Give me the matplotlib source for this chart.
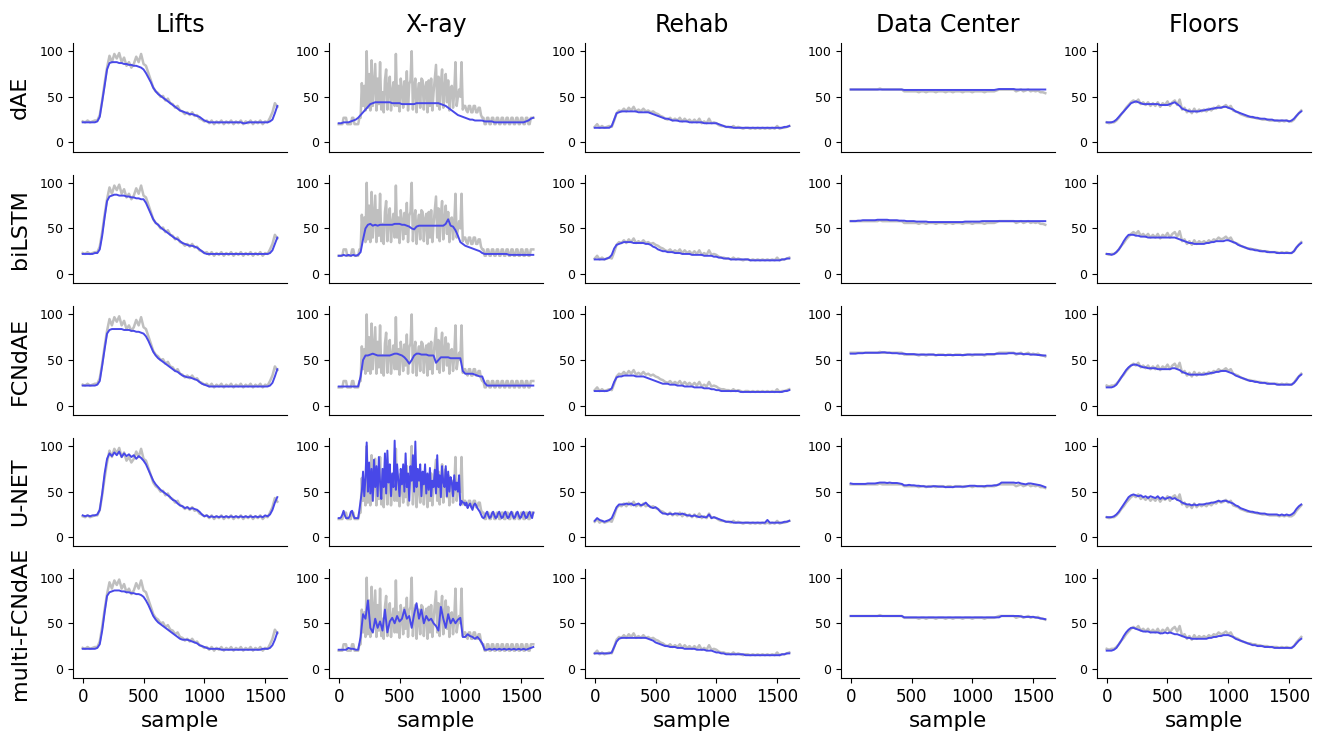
import numpy as np
import matplotlib
matplotlib.use("Agg")
import matplotlib.pyplot as plt

# ---------------- sample grids ----------------
sample_coarse = np.arange(0, 1601, 20)   # 81 points
sample_fine = np.arange(0, 1601, 10)     # 161 points

appliances = ["Lifts", "X-ray", "Rehab", "Data Center", "Floors"]
models = ["dAE", "biLSTM", "FCNdAE", "U-NET", "multi-FCNdAE"]
x_ticks = [0, 500, 1000, 1500]
y_ticks = [0, 50, 100]

# ---------------- Lifts ----------------
lifts_truth = [23,22,24,22,23,24,24,30,46,65,
               82,95,88,97,92,98,88,93,84,88,
               82,86,94,88,97,86,84,76,68,60,
               56,54,50,51,46,48,43,42,38,40,
               35,34,31,33,30,33,29,30,26,25,
               23,24,21,24,20,23,21,24,20,23,
               21,24,20,23,21,24,20,23,21,24,
               20,23,21,24,20,23,22,27,33,43,
               39]
lifts_dae = [22,22,22,22,22,22,23,28,45,62,
             80,87,88,88,88,87,87,86,86,85,
             85,84,84,83,82,80,76,71,66,60,
             56,53,51,49,47,45,43,41,39,37,
             35,34,33,32,31,31,30,29,28,26,
             24,23,22,22,22,22,22,22,22,22,
             22,22,22,22,22,22,21,21,22,22,
             22,22,22,22,22,22,22,23,25,32,
             40]
lifts_bilstm = [22,22,22,22,22,23,23,27,42,62,
                80,85,86,87,87,86,86,86,85,85,
                84,84,83,83,82,82,78,72,66,60,
                56,54,51,49,47,45,43,41,39,38,
                36,34,33,32,31,31,30,29,27,25,
                23,22,22,22,22,22,22,22,22,22,
                22,22,22,22,22,22,22,22,22,22,
                22,22,22,22,22,22,22,23,26,33,
                40]
lifts_fcndae = [22,22,22,22,22,22,23,27,44,62,
                79,83,84,84,84,84,84,83,83,83,
                82,82,81,81,80,79,76,71,65,59,
                55,52,50,48,46,44,42,40,38,37,
                35,33,32,31,31,30,29,28,26,24,
                23,22,21,21,21,21,21,21,21,21,
                21,21,21,21,21,21,21,21,21,21,
                21,21,21,21,21,21,21,22,25,32,
                40]
lifts_unet = [24,23,24,23,24,24,25,30,48,70,
              86,92,89,93,90,94,88,92,89,91,
              88,90,86,89,87,84,80,74,68,62,
              58,55,52,50,48,46,44,41,40,37,
              35,34,32,33,31,32,31,30,28,25,
              23,24,22,23,22,23,22,23,22,23,
              22,23,22,23,22,23,22,23,22,23,
              22,23,22,23,22,24,23,25,30,38,
              44]
lifts_multi = [22,22,22,22,22,22,23,27,42,62,
               80,84,85,86,86,86,85,85,84,84,
               83,83,82,82,81,79,75,70,64,58,
               54,51,49,47,45,43,41,39,37,35,
               33,32,32,32,31,30,29,28,26,25,
               24,23,22,22,22,22,22,21,21,21,
               21,21,21,21,21,21,21,21,21,21,
               21,21,21,21,22,22,22,23,26,32,
               40]

# ---------------- X-ray ----------------
xray_truth = [20,20,20,20,27,27,27,20,20,20,
              20,27,27,20,20,20,20,27,27,65,
              40,62,35,100,38,75,35,90,40,64,
              86,35,70,42,88,36,55,33,68,80,
              36,60,72,35,55,66,40,97,40,62,
              34,70,58,38,67,44,78,35,64,68,
              100,36,60,70,33,55,65,38,70,68,
              36,60,66,33,68,40,70,35,55,70,
              85,40,72,36,65,80,38,58,75,44,
              68,35,60,62,38,55,88,40,50,58,
              50,88,36,40,40,35,33,40,40,33,
              33,40,40,33,33,38,38,30,27,27,
              20,20,27,27,20,20,27,27,20,20,
              27,27,20,20,27,27,20,20,27,27,
              20,20,27,27,20,20,27,27,20,20,
              27,27,20,20,27,27,20,20,27,27,
              27]
xray_dae = [21,21,22,22,22,23,24,25,27,30,
            33,36,39,42,43,44,44,44,44,44,
            44,44,43,43,43,43,42,42,42,42,
            42,42,43,43,43,43,43,43,43,43,
            43,43,42,41,40,38,36,34,32,30,
            29,28,27,26,25,25,24,24,24,24,
            23,23,23,23,22,22,22,22,22,22,
            22,22,22,22,22,22,22,23,24,26,
            27]
xray_bilstm = [20,20,21,20,21,20,21,20,21,24,
               38,50,54,55,53,54,53,54,54,54,
               54,54,54,55,55,55,54,54,53,52,
               50,49,52,53,53,53,53,53,53,53,
               53,53,53,53,55,60,53,52,48,42,
               35,33,31,30,29,28,27,26,25,23,
               22,22,22,22,22,22,22,22,22,22,
               21,21,21,21,21,21,21,21,21,21,
               21]
xray_fcndae = [21,21,21,21,21,21,21,21,21,32,
               50,55,55,56,57,56,55,55,55,55,
               55,55,56,57,57,56,55,53,50,46,
               50,55,57,57,56,56,56,55,55,55,
               47,50,53,53,53,53,52,52,52,52,
               52,38,35,35,35,35,34,33,32,32,
               25,22,22,22,22,22,22,22,22,22,
               22,22,22,22,22,22,22,22,22,22,
               22]
xray_unet = [21,21,22,25,29,24,21,21,21,23,
             28,29,24,21,21,21,21,30,40,50,
             72,45,65,104,50,82,48,75,40,85,
             55,78,45,88,60,42,75,55,92,48,
             95,60,80,45,70,55,106,52,80,62,
             45,75,58,80,50,92,55,70,40,78,
             62,90,50,105,55,75,62,80,45,72,
             58,80,48,70,52,76,45,62,55,74,
             48,90,55,68,44,78,60,55,78,45,
             72,50,66,60,45,68,52,60,50,68,
             35,40,38,38,35,38,32,35,37,33,
             30,35,37,35,32,30,28,25,22,21,
             22,26,28,24,21,22,26,28,24,21,
             22,26,28,24,21,22,26,28,24,21,
             22,26,28,24,21,22,26,28,24,21,
             22,26,28,24,21,22,26,28,24,21,
             27]
xray_multi = [21,21,21,21,23,22,22,21,21,35,
              60,55,75,45,40,55,45,52,42,65,
              40,52,56,50,58,52,55,65,55,58,
              45,60,72,55,65,50,58,53,55,50,
              47,42,68,55,45,60,50,55,50,54,
              56,35,35,38,36,35,33,35,32,28,
              21,21,22,21,22,21,22,21,22,21,
              22,21,22,21,22,21,22,21,22,23,
              24]

# ---------------- Rehab ----------------
rehab_truth = [17,20,16,18,16,17,18,17,24,32,
               35,34,37,34,38,35,39,34,36,34,
               37,34,35,33,34,32,31,29,28,26,
               25,27,24,26,24,27,23,26,23,25,
               22,25,22,26,21,23,21,26,21,22,
               21,19,18,18,17,17,16,18,16,17,
               16,15,16,16,15,16,15,16,15,16,
               15,16,15,16,15,18,15,16,16,17,
               18]
rehab_dae = [16,16,16,16,16,16,16,18,25,32,
             33,34,34,34,34,34,34,34,33,33,
             33,33,33,32,31,30,29,28,27,26,
             26,25,24,24,24,23,23,23,23,22,
             22,22,22,22,22,21,21,21,21,21,
             21,20,19,18,17,17,17,16,16,16,
             16,16,16,16,16,16,16,16,16,16,
             16,16,16,16,16,16,16,16,17,17,
             18]
rehab_bilstm = [16,16,16,16,16,17,18,21,28,32,
                33,34,35,35,35,35,34,34,34,34,
                34,33,33,32,30,29,27,26,25,25,
                24,24,24,23,23,23,22,22,22,22,
                21,21,21,21,21,20,20,20,20,19,
                19,18,18,17,17,17,16,16,16,16,
                16,16,16,16,15,15,15,15,15,15,
                15,15,15,15,15,15,15,16,16,17,
                17]
rehab_fcndae = [16,16,16,16,16,16,17,19,26,31,
                32,32,33,33,33,33,33,32,32,32,
                32,31,30,29,28,27,26,25,24,24,
                24,23,23,23,22,22,22,21,21,21,
                21,20,20,20,20,19,19,19,18,18,
                17,17,16,16,16,16,16,16,16,16,
                15,15,15,15,15,15,15,15,15,15,
                15,15,15,15,15,15,15,15,16,16,
                17]
rehab_unet = [18,21,19,18,17,18,19,21,27,33,
              36,36,36,37,36,37,35,36,37,35,
              36,38,35,33,32,33,31,28,26,26,
              25,26,25,26,26,25,26,25,24,24,
              23,24,23,22,23,22,22,25,21,22,
              21,20,19,18,17,17,17,16,16,16,
              16,16,16,16,16,16,16,16,16,16,
              16,19,16,16,16,16,16,16,17,17,
              18]
rehab_multi = [17,17,17,17,17,17,17,18,24,30,
               33,34,34,34,34,34,34,34,34,34,
               34,34,33,32,31,29,28,27,26,25,
               25,24,24,24,23,23,23,22,22,22,
               22,22,21,21,21,21,20,20,20,19,
               18,18,17,17,16,16,16,16,16,16,
               16,16,15,15,15,15,15,15,15,15,
               15,15,15,15,15,15,15,16,16,17,
               17]

# ---------------- Data Center ----------------
dc_truth = [58,58,58,58,58,58,58,58,58,58,
            58,58,59,58,58,58,58,58,58,58,
            58,58,56,56,56,56,56,56,55,56,
            56,55,56,56,56,55,56,56,56,55,
            56,56,55,56,56,56,55,56,56,56,
            55,56,56,56,56,55,56,56,56,56,
            57,58,58,58,58,58,58,58,56,57,
            58,56,57,58,56,57,56,57,55,55,
            54]
dc_dae = [58,58,58,58,58,58,58,58,58,58,
          58,58,58,58,58,58,58,58,58,58,
          58,58,57.5,57.5,57.5,57.5,57.5,57.5,57.5,57.5,
          57.5,57.5,57.5,57.5,57.5,57.5,57.5,57.5,57.5,57.5,
          57.5,57.5,57.5,57.5,57.5,57.5,57.5,57.5,57.5,57.5,
          57.5,57.5,57.5,57.5,57.5,57.5,57.5,57.5,57.5,57.5,
          58,58.5,58.5,58.5,58.5,58.5,58.5,58.5,58,58,
          58,58,58,58,58,58,58,58,58,58,
          58]
dc_bilstm = [58,58,58,58.5,58.5,59,59,59,59,59,
             59,59.5,59.5,59.5,59.5,59.5,59,59,59,59,
             58.5,58.5,58.5,58,58,58,58,57.5,57.5,57.5,
             57.5,57.5,57,57,57,57,57,57,57,57,
             57,57,57,57,57,57,57,57.5,57.5,57.5,
             57.5,57.5,57.5,57.5,58,58,58,58,58,58,
             58,58,58,58,58,58,58,58,58,58,
             58,58,58,58,58,58,58,58,58,58,
             58]
dc_fcndae = [57,57,57,57.5,57.5,57.5,58,58,58,58,
             58,58,58,58.5,58.5,58,58,57.5,57.5,57.5,
             57,57,57,56.5,56.5,56.5,56.5,56,56,56,
             56,56,56,56,56,55.5,55.5,55.5,55.5,55.5,
             55.5,55.5,55.5,55.5,55.5,55.5,55.5,55.5,56,56,
             56,56,56,56,56,56,56.5,56.5,56.5,56.5,
             57,57,57,57,57,57.5,57.5,57.5,57,57,
             57,56.5,56.5,56.5,56,56,56,55.5,55.5,55,
             55]
dc_unet = [59,58.5,58.5,58.5,58.5,58.5,58.5,59,59,59,
           59,59.5,60,60,60,59.5,60,59.5,59.5,59.5,
           59,58.5,57,57,57.5,57,57,56.5,56.5,56,
           56,55.5,55.5,55.5,56,56,55.5,55.5,55.5,55,
           55,55,55,55.5,55.5,55.5,55.5,55.5,56,56.5,
           56.5,56.5,56,56,56,56,56.5,56.5,56.5,57,
           57,58,60,60,60,60,60,60,59.5,60,
           59,58.5,58,59,59,58.5,58,57.5,57,56,
           55]
dc_multi = [58,58,58,58,58,58,58,58,58,58,
            58,58,58,58,58,58,58,58,58,58,
            58,58,56.5,56.5,56.5,56.5,56.5,56.5,56.5,56.5,
            56.5,56.5,56.5,56.5,56.5,56.5,56.5,56.5,56.5,56.5,
            56.5,56.5,56.5,56.5,56.5,56.5,56.5,56.5,56.5,56.5,
            56.5,56.5,56.5,56.5,56.5,56.5,56.5,56.5,56.5,56.5,
            56.5,56.5,58,58,58,58,58,58,58,58,
            57.5,57,57,57,57,57,56.5,56,55.5,55,
            54.5]

# ---------------- Floors ----------------
floors_truth = [22,21,22,22,24,27,31,34,38,41,
                44,46,44,47,42,44,41,44,40,43,
                40,44,39,43,41,45,40,44,46,41,
                47,36,38,33,36,32,37,33,36,34,
                36,34,37,35,38,37,40,38,39,41,
                38,40,35,34,33,31,30,29,28,28,
                27,27,26,26,25,25,25,24,24,24,
                24,23,24,23,24,23,23,25,29,32,
                35]
floors_dae = [22,22,22,23,25,28,31,34,37,40,
              43,44,45,44,43,42,42,42,42,42,
              42,42,41,41,41,41,42,43,44,42,
              40,37,36,35,34,34,34,34,34,35,
              35,36,36,37,37,38,38,38,39,39,
              38,37,36,34,33,32,31,30,29,28,
              28,27,27,26,26,26,25,25,25,24,
              24,24,24,24,24,23,24,26,29,32,
              34]
floors_bilstm = [22,22,21,22,24,27,31,36,40,43,
                 43,43,42,42,41,41,41,40,40,40,
                 40,40,40,40,40,40,40,40,40,39,
                 38,37,36,35,34,34,33,33,33,33,
                 33,34,34,35,35,36,36,36,36,37,
                 37,36,35,34,32,31,30,29,28,27,
                 27,26,26,25,25,25,24,24,24,24,
                 23,23,23,23,23,23,23,25,29,32,
                 34]
floors_fcndae = [20,20,20,21,23,27,31,35,39,42,
                 44,45,45,44,43,42,42,41,41,41,
                 41,40,40,40,40,40,40,41,41,40,
                 39,37,36,35,34,34,34,34,34,34,
                 34,35,35,36,36,37,37,38,38,38,
                 37,36,35,33,32,31,30,29,28,27,
                 27,26,26,25,25,25,24,24,24,24,
                 23,23,23,23,23,23,23,25,28,32,
                 34]
floors_unet = [22,22,22,23,25,28,32,36,40,44,
               46,47,46,45,46,44,45,43,45,44,
               43,45,42,44,42,43,44,42,43,41,
               40,38,37,36,36,35,36,35,36,36,
               36,37,37,38,38,39,40,39,40,40,
               39,38,37,35,34,32,31,30,29,28,
               28,27,27,26,26,26,25,25,25,25,
               25,24,25,24,25,24,25,27,31,34,
               36]
floors_multi = [20,20,20,21,23,27,31,36,40,43,
                45,45,44,43,42,41,41,41,40,40,
                40,40,39,39,40,39,40,39,38,38,
                37,36,35,34,34,33,33,33,33,33,
                33,33,34,34,35,35,36,36,37,37,
                37,36,35,33,32,31,30,29,28,27,
                26,26,25,25,25,24,24,24,24,23,
                23,23,23,23,23,23,23,25,28,31,
                33]

truth = {
    "Lifts": lifts_truth,
    "X-ray": xray_truth,
    "Rehab": rehab_truth,
    "Data Center": dc_truth,
    "Floors": floors_truth,
}
preds = {
    "Lifts": [lifts_dae, lifts_bilstm, lifts_fcndae, lifts_unet, lifts_multi],
    "X-ray": [xray_dae, xray_bilstm, xray_fcndae, xray_unet, xray_multi],
    "Rehab": [rehab_dae, rehab_bilstm, rehab_fcndae, rehab_unet, rehab_multi],
    "Data Center": [dc_dae, dc_bilstm, dc_fcndae, dc_unet, dc_multi],
    "Floors": [floors_dae, floors_bilstm, floors_fcndae, floors_unet, floors_multi],
}


def grid_for(values):
    return sample_fine if len(values) == len(sample_fine) else sample_coarse


GRAY = "#bfbfbf"
BLUE = "#4848e8"

fig, axes = plt.subplots(5, 5, figsize=(13.2, 7.35), dpi=100)
fig.subplots_adjust(left=73 / 1320, right=1311 / 1320, top=1 - 43 / 735,
                    bottom=1 - 678 / 735, wspace=0.196, hspace=0.213)

for r, model in enumerate(models):
    for c, app in enumerate(appliances):
        ax = axes[r, c]
        t = truth[app]
        p = preds[app][r]
        ax.plot(grid_for(t), t, color=GRAY, lw=1.8, zorder=2)
        ax.plot(grid_for(p), p, color=BLUE, lw=1.4, zorder=3)
        ax.set_xlim(-80, 1680)
        ax.set_ylim(-10, 109)
        ax.set_yticks(y_ticks)
        ax.set_xticks(x_ticks)
        ax.spines[["top", "right"]].set_visible(False)
        ax.tick_params(axis="y", labelsize=9, length=3.5, width=0.8)
        if r < 4:
            ax.tick_params(axis="x", bottom=False, labelbottom=False)
        else:
            ax.tick_params(axis="x", labelsize=12, length=3.5, width=0.8)
            ax.set_xlabel("sample", fontsize=15.5, labelpad=4)
        if r == 0:
            ax.set_title(app, fontsize=17, pad=8)
        if c == 0:
            ax.set_ylabel(model, fontsize=16)
            ax.yaxis.set_label_coords(-0.2, 0.5)

fig.savefig("out.png", dpi=100)
